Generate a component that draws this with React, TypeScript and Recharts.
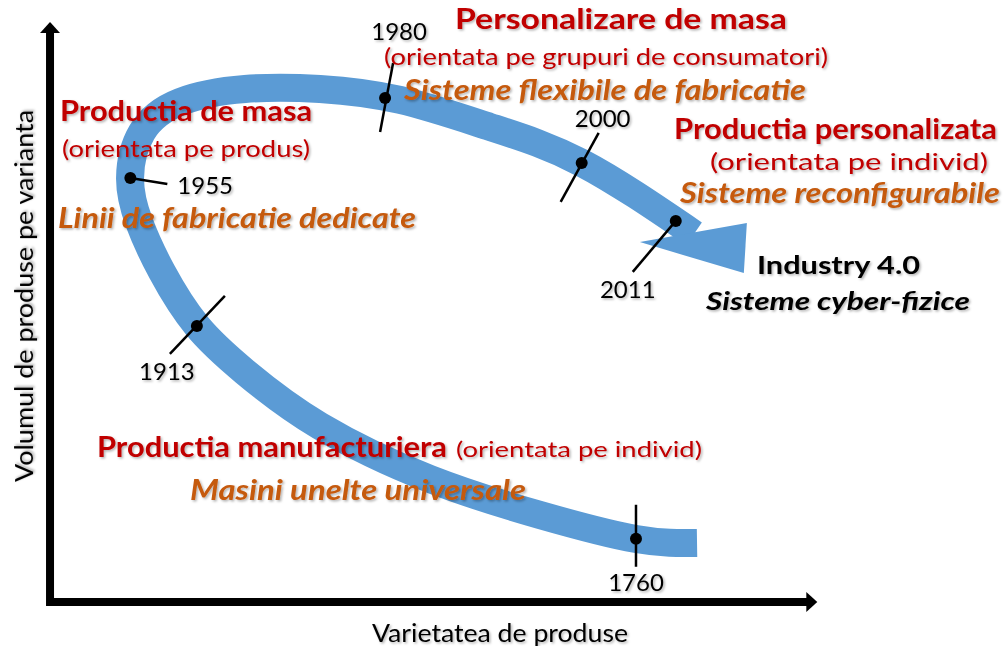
import { ComposedChart, Line, Scatter, XAxis, YAxis } from "recharts";

// plot space: the axis box runs 0..100 on both axes, the rest is room for captions
const X_DOMAIN = [-6.54, 125.1];
const Y_DOMAIN = [-7.59, 103.79];

const FONT = "Lato, 'Open Sans', sans-serif";
const RED = "#C00000";
const ORANGE = "#C55A11";
const BLUE = "#5B9BD5";

// centre line of the big arrow, from the tail (1760) to the head
const arrowPath = [
  { x: 84.58, y: 10.17 },
  { x: 76.6, y: 10.86 },
  { x: 64.05, y: 15.0 },
  { x: 49.67, y: 21.21 },
  { x: 35.29, y: 30.34 },
  { x: 25.49, y: 39.66 },
  { x: 19.22, y: 47.59 },
  { x: 14.64, y: 56.9 },
  { x: 11.63, y: 65.52 },
  { x: 10.46, y: 73.1 },
  { x: 12.03, y: 81.03 },
  { x: 16.99, y: 86.21 },
  { x: 25.49, y: 88.45 },
  { x: 35.29, y: 88.45 },
  { x: 45.75, y: 86.55 },
  { x: 57.52, y: 81.9 },
  { x: 69.54, y: 75.69 },
  { x: 84.18, y: 63.45 },
];
const arrowTip = [{ x: 90.7, y: 56.7 }];

const milestones = [
  { x: 76.6, y: 10.9, year: "1760" },
  { x: 19.2, y: 47.6, year: "1913" },
  { x: 10.5, y: 73.1, year: "1955" },
  { x: 43.8, y: 86.9, year: "1980" },
  { x: 69.5, y: 75.7, year: "2000" },
  { x: 81.8, y: 65.7, year: "2011" },
];

const axisPath = [
  { x: 0, y: 98.3 },
  { x: 0, y: 0 },
  { x: 99.1, y: 0 },
];
const axisHeads = [
  { x: 0, y: 100, dir: "up" },
  { x: 100.3, y: 0, dir: "right" },
];

const captions = [
  { id: "c1", x: 52.94, y: 98.79, kind: "stage", text: "Personalizare de masa" },
  { id: "c2", x: 43.66, y: 92.59, kind: "focus", text: "(orientata pe grupuri de consumatori)" },
  { id: "c3", x: 46.27, y: 86.55, kind: "system", text: "Sisteme flexibile de fabricatie" },
  { id: "c4", x: 1.31, y: 82.93, kind: "stage", text: "Productia de masa" },
  { id: "c5", x: 1.57, y: 76.72, kind: "focus", text: "(orientata pe produs)" },
  { id: "c6", x: 1.05, y: 64.48, kind: "system", text: "Linii de fabricatie dedicate" },
  { id: "c7", x: 81.57, y: 79.83, kind: "stage", text: "Productia personalizata" },
  { id: "c8", x: 86.27, y: 74.48, kind: "focus", text: "(orientata pe individ)" },
  { id: "c9", x: 82.35, y: 68.79, kind: "system", text: "Sisteme reconfigurabile" },
  { id: "c10", x: 92.42, y: 56.55, kind: "industry", text: "Industry 4.0" },
  { id: "c11", x: 85.75, y: 50.34, kind: "cyber", text: "Sisteme cyber-fizice" },
  { id: "c12", x: 6.14, y: 25.0, kind: "stage", text: "Productia manufacturiera" },
  { id: "c13", x: 53.07, y: 25.0, kind: "focusSmall", text: "(orientata pe individ)" },
  { id: "c14", x: 18.3, y: 17.59, kind: "system", text: "Masini unelte universale" },
  { id: "c15", x: 42.09, y: -6.9, kind: "axisX", text: "Varietatea de produse" },
  { id: "c16", x: -2.22, y: 20.69, kind: "axisY", text: "Volumul de produse pe varianta" },
];

const captionStyle: Record<string, any> = {
  stage: { size: 28, weight: 700, style: "normal", fill: RED },
  focus: { size: 24, weight: 400, style: "normal", fill: RED },
  focusSmall: { size: 22, weight: 400, style: "normal", fill: RED },
  system: { size: 28, weight: 700, style: "italic", fill: ORANGE },
  industry: { size: 25, weight: 700, style: "normal", fill: "#000" },
  cyber: { size: 25, weight: 700, style: "italic", fill: "#000" },
  axisX: { size: 25, weight: 400, style: "normal", fill: "#000" },
  axisY: { size: 25, weight: 400, style: "normal", fill: "#000" },
};

const captionWidth: Record<string, number> = {
  c1: 332, c2: 444, c3: 402, c4: 252, c5: 248, c6: 358, c7: 323, c8: 278,
  c9: 320, c10: 163, c11: 264, c12: 350, c13: 246, c14: 336, c15: 256, c16: 372,
};

// tick segment [x1, y1, x2, y2] and label offset, relative to each dot
const markerLayout: Record<string, any> = {
  "1760": { tick: [0, -34, 0, 28], label: [0, 52], anchor: "middle" },
  "1913": { tick: [-27, 28, 28, -30], label: [-30, 54], anchor: "middle" },
  "1955": { tick: [0, 0, 37, 6], label: [47, 16], anchor: "start" },
  "1980": { tick: [-5, 34, 8, -35], label: [14, -58], anchor: "middle" },
  "2000": { tick: [-21, 39, 17, -30], label: [21, -36], anchor: "middle" },
  "2011": { tick: [0, 0, -43, 51], label: [-48, 77], anchor: "middle" },
};

function Caption(props: any) {
  const { cx, cy, payload } = props;
  const s = captionStyle[payload.kind];
  return (
    <text
      x={cx}
      y={cy}
      fill={s.fill}
      fontSize={s.size}
      fontWeight={s.weight}
      fontStyle={s.style}
      fontFamily={FONT}
      textLength={captionWidth[payload.id]}
      lengthAdjust="spacingAndGlyphs"
      filter="url(#soft)"
      transform={payload.kind === "axisY" ? `rotate(-90 ${cx} ${cy})` : undefined}
    >
      {payload.text}
    </text>
  );
}

function Milestone(props: any) {
  const { cx, cy, payload } = props;
  const m = markerLayout[payload.year];
  return (
    <g>
      <line
        x1={cx + m.tick[0]}
        y1={cy + m.tick[1]}
        x2={cx + m.tick[2]}
        y2={cy + m.tick[3]}
        stroke="#000"
        strokeWidth={2.5}
      />
      <circle cx={cx} cy={cy} r={6} fill="#000" />
      <text
        x={cx + m.label[0]}
        y={cy + m.label[1]}
        textAnchor={m.anchor}
        fontSize={24}
        fontFamily={FONT}
        fill="#000"
        filter="url(#soft)"
      >
        {payload.year}
      </text>
    </g>
  );
}

function ArrowHead(props: any) {
  const { cx, cy } = props;
  return <polygon points={`${cx},${cy} ${cx - 104},${cy - 31} ${cx + 3},${cy - 50}`} fill={BLUE} />;
}

function AxisHead(props: any) {
  const { cx, cy, payload } = props;
  const pts =
    payload.dir === "up"
      ? `${cx},${cy} ${cx - 10},${cy + 11} ${cx + 10},${cy + 11}`
      : `${cx},${cy} ${cx - 11},${cy - 10} ${cx - 11},${cy + 10}`;
  return <polygon points={pts} fill="#000" />;
}

export default function App() {
  return (
    <div style={{ position: "absolute", left: 0, top: 0, background: "#fff" }}>
      <ComposedChart width={1007} height={646} margin={{ top: 0, right: 0, bottom: 0, left: 0 }}>
        <defs>
          <filter id="soft" x="-10%" y="-30%" width="120%" height="160%">
            <feDropShadow dx="1.5" dy="1.5" stdDeviation="1.2" floodColor="#000" floodOpacity="0.3" />
          </filter>
        </defs>
        <XAxis type="number" dataKey="x" domain={X_DOMAIN} hide />
        <YAxis type="number" dataKey="y" domain={Y_DOMAIN} hide />
        <Line
          data={arrowPath}
          dataKey="y"
          type="natural"
          stroke={BLUE}
          strokeWidth={28}
          dot={false}
          activeDot={false}
          isAnimationActive={false}
        />
        <Scatter data={arrowTip} shape={ArrowHead} isAnimationActive={false} />
        <Line
          data={axisPath}
          dataKey="y"
          type="linear"
          stroke="#000"
          strokeWidth={8}
          strokeLinejoin="miter"
          dot={false}
          activeDot={false}
          isAnimationActive={false}
        />
        <Scatter data={axisHeads} shape={AxisHead} isAnimationActive={false} />
        <Scatter data={milestones} shape={Milestone} isAnimationActive={false} />
        <Scatter data={captions} shape={Caption} isAnimationActive={false} />
      </ComposedChart>
    </div>
  );
}
